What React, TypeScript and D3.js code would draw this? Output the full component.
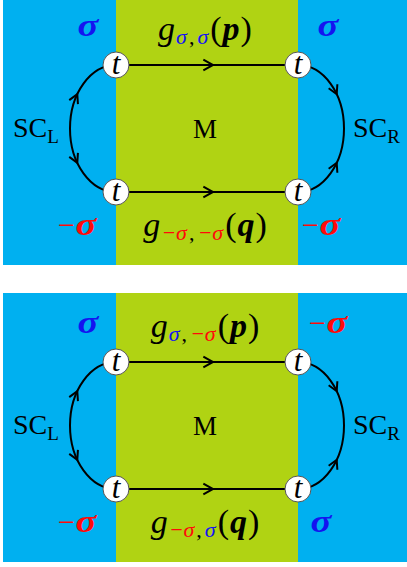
import React from "react";
import * as d3 from "d3";

// two panels of the diagram, top and bottom
const panels = ["upper", "lower"];
const spinTopLeft = ["σ", "σ"];
const spinTopRight = ["σ", "−σ"];
const spinBottomLeft = ["−σ", "−σ"];
const spinBottomRight = ["−σ", "σ"];
const topSub = [["σ", "σ"], ["σ", "−σ"]];
const bottomSub = [["−σ", "−σ"], ["−σ", "σ"]];
const topArg = ["p", "p"];
const bottomArg = ["q", "q"];
const regions = ["SCL", "M", "SCR"];

const W = 407;
const H = 567;
const serif = "'Liberation Serif', 'Times New Roman', serif";
const BLUE_BG = "#00b0f0";
const GREEN_BG = "#b0d313";
const SPIN_BLUE = "#1414f0";
const SPIN_RED = "#ff0a0a";

const spinColor = (s: string) => (s.startsWith("−") ? SPIN_RED : SPIN_BLUE);

const x = d3.scalePoint<string>().domain(["L", "R"]).range([116, 298]);
const y = d3.scalePoint<string>().domain(["top", "bottom"]).range([65, 192]);
const panelY = d3.scalePoint<string>().domain(panels).range([0, 297]);

const nodeR = 13;
const arcRx = 46;

function chevron(tx: number, ty: number, ang: number, len = 10, spread = 0.5) {
  const a1 = ang + Math.PI - spread;
  const a2 = ang + Math.PI + spread;
  const p = d3.path();
  p.moveTo(tx + len * Math.cos(a1), ty + len * Math.sin(a1));
  p.lineTo(tx, ty);
  p.lineTo(tx + len * Math.cos(a2), ty + len * Math.sin(a2));
  return p.toString();
}

function GLabel({ cx, by, sub, arg }: { cx: number; by: number; sub: string[]; arg: string }) {
  return (
    <text x={cx} y={by} textAnchor="middle" fontFamily={serif} fontSize={34} fill="#000">
      <tspan fontStyle="italic">g</tspan>
      <tspan fontSize={22} dy={4} dx={1} fontStyle="italic" fill={spinColor(sub[0])}>{sub[0]}</tspan>
      <tspan fontSize={22} dx={2}>,</tspan>
      <tspan fontSize={22} dx={3} fontStyle="italic" fill={spinColor(sub[1])}>{sub[1]}</tspan>
      <tspan dy={-4} dx={2}>(</tspan>
      <tspan fontWeight="bold" fontStyle="italic" dx={1}>{arg}</tspan>
      <tspan dx={1}>)</tspan>
    </text>
  );
}

// spin label: the sigma glyph is stretched a little to match the wide symbol font
function Spin({ cx, by, s }: { cx: number; by: number; s: string }) {
  const neg = s.startsWith("−");
  const c = spinColor(s);
  const sx = neg ? cx + 9 : cx;
  return (
    <g>
      {neg && (
        <text x={sx - 11} y={by} textAnchor="end" fontFamily={serif} fontSize={30} fill={c}>−</text>
      )}
      <g transform={`translate(${sx}, ${by}) scale(1.25, 1)`}>
        <text x={0} y={0} textAnchor="middle" fontFamily={serif} fontSize={31}
          fontWeight="bold" fontStyle="italic" fill={c}>σ</text>
      </g>
    </g>
  );
}

function Panel({ i }: { i: number }) {
  const id = panels[i];
  const oy = panelY(id)!;
  const xl = x("L")!;
  const xr = x("R")!;
  const yt = y("top")!;
  const yb = y("bottom")!;
  const ym = (yt + yb) / 2;
  const ry = (yb - yt) / 2;

  // arrow positions along the side arcs
  const t1 = 1.0;
  const t2 = Math.PI - 1.0;
  const leftPt = (t: number) => [xl - arcRx * Math.sin(t), ym - ry * Math.cos(t)];
  const rightPt = (t: number) => [xr + arcRx * Math.sin(t), ym - ry * Math.cos(t)];
  const [lx1, ly1] = leftPt(t1);
  const [lx2, ly2] = leftPt(t2);
  const [rx1, ry1] = rightPt(t1);
  const [rx2, ry2] = rightPt(t2);
  // up along left arc at t1 means direction -d/dt
  const angLeftUp = Math.atan2(-(ry * Math.sin(t1)), arcRx * Math.cos(t1));
  const angLeftDown = Math.atan2(ry * Math.sin(t2), -arcRx * Math.cos(t2));
  const angRightDown = Math.atan2(ry * Math.sin(t1), arcRx * Math.cos(t1));
  const angRightUp = Math.atan2(-(ry * Math.sin(t2)), -arcRx * Math.cos(t2));

  const nodes = [[xl, yt], [xr, yt], [xl, yb], [xr, yb]];

  return (
    <g transform={`translate(0, ${oy})`}>
      <rect x={3} y={-4} width={W - 3} height={269} fill={BLUE_BG} />
      <rect x={xl} y={-4} width={xr - xl} height={269} fill={GREEN_BG} />

      {/* propagator lines */}
      {[yt, yb].map((yy, k) => (
        <g key={k}>
          <line x1={xl} x2={xr} y1={yy} y2={yy} stroke="#000" strokeWidth={2} />
          <path d={chevron(213, yy, 0, 11)} fill="none" stroke="#000" strokeWidth={2} />
        </g>
      ))}

      {/* superconductor arcs */}
      <path d={`M${xl},${yt} A${arcRx},${ry} 0 0 0 ${xl},${yb}`} fill="none" stroke="#000" strokeWidth={2} />
      <path d={`M${xr},${yt} A${arcRx},${ry} 0 0 1 ${xr},${yb}`} fill="none" stroke="#000" strokeWidth={2} />
      <path d={chevron(lx1, ly1, angLeftUp, 10)} fill="none" stroke="#000" strokeWidth={2} />
      <path d={chevron(lx2, ly2, angLeftDown, 10)} fill="none" stroke="#000" strokeWidth={2} />
      <path d={chevron(rx1, ry1, angRightDown, 10)} fill="none" stroke="#000" strokeWidth={2} />
      <path d={chevron(rx2, ry2, angRightUp, 10)} fill="none" stroke="#000" strokeWidth={2} />

      {/* tunnelling vertices */}
      {nodes.map(([nx, ny], k) => (
        <g key={k}>
          <circle cx={nx} cy={ny} r={nodeR} fill="#fff" stroke="#555" strokeWidth={1} />
          <text x={nx} y={ny + 9} textAnchor="middle" fontFamily={serif} fontStyle="italic" fontSize={31}>t</text>
        </g>
      ))}

      <GLabel cx={205} by={40} sub={topSub[i]} arg={topArg[i]} />
      <GLabel cx={205} by={236} sub={bottomSub[i]} arg={bottomArg[i]} />

      <Spin cx={88} by={36} s={spinTopLeft[i]} />
      <Spin cx={328} by={36} s={spinTopRight[i]} />
      <Spin cx={77} by={235} s={spinBottomLeft[i]} />
      <Spin cx={321} by={235} s={spinBottomRight[i]} />

      <text x={13} y={137} fontFamily={serif} fontSize={28}>
        SC<tspan fontSize={19} dy={6}>L</tspan>
      </text>
      <text x={353} y={137} fontFamily={serif} fontSize={28}>
        SC<tspan fontSize={19} dy={6}>R</tspan>
      </text>
      <text x={(xl + xr) / 2 - 2} y={138} textAnchor="middle" fontFamily={serif} fontSize={27}>{regions[1]}</text>
    </g>
  );
}

export default function App() {
  return (
    <div style={{ position: "absolute", left: 0, top: 0, background: "#fff" }}>
      <svg width={W} height={H} style={{ display: "block" }}>
        <rect width={W} height={H} fill="#fff" />
        {panels.map((p, i) => (
          <Panel key={p} i={i} />
        ))}
      </svg>
    </div>
  );
}
